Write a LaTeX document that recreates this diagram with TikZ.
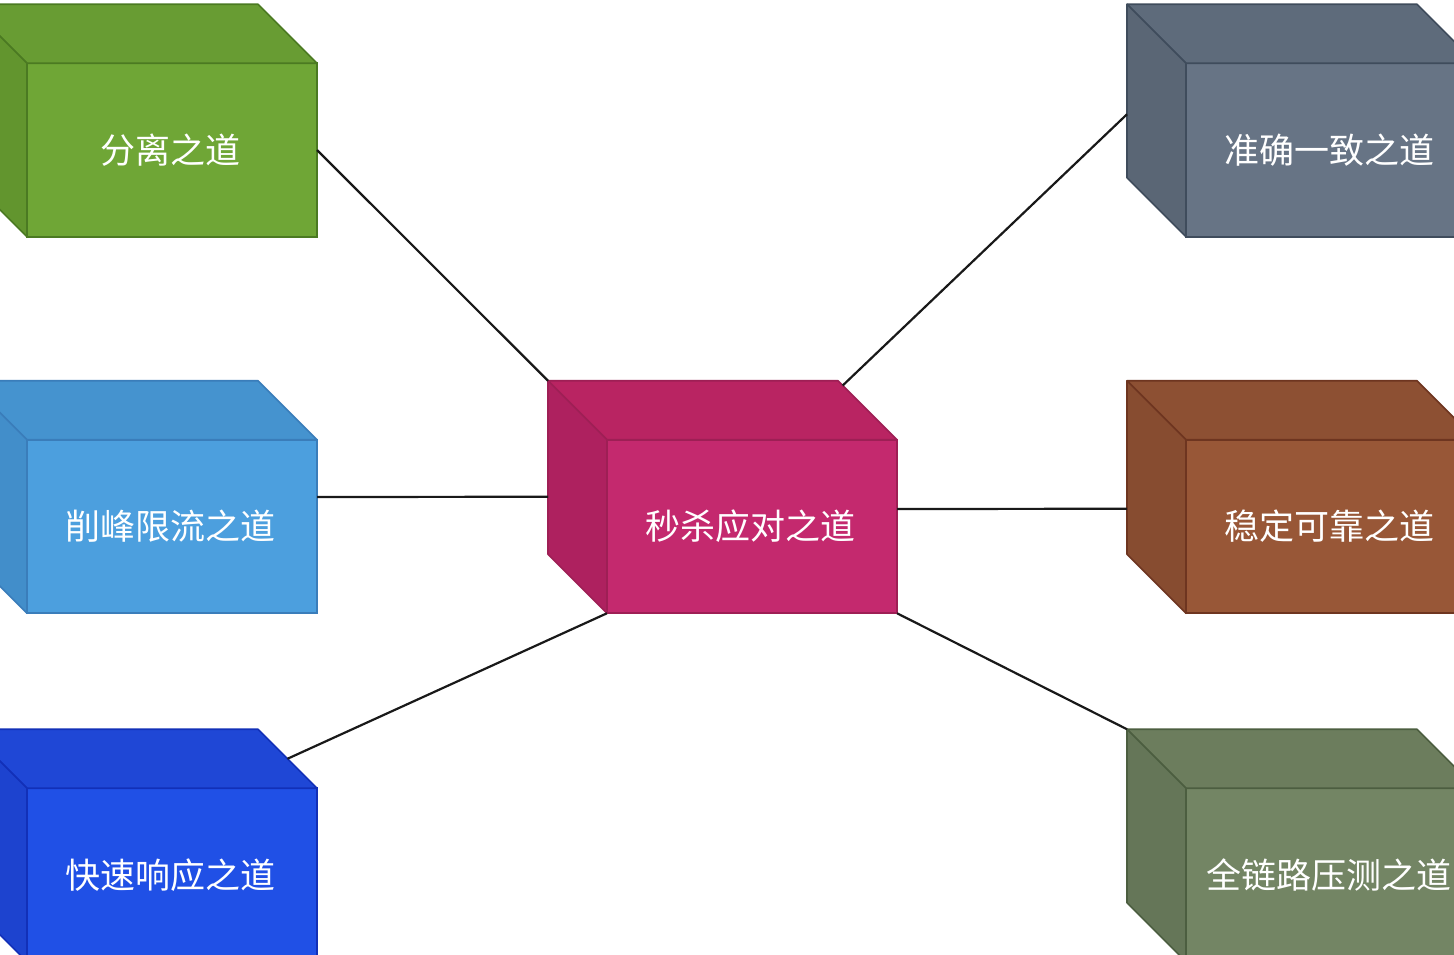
\documentclass[tikz,border=0pt]{standalone}
\usepackage{fontspec}
\newfontfamily\cjk{Noto Sans CJK SC}
\usetikzlibrary{calc}
\definecolor{gF}{HTML}{6FA636}\definecolor{gT}{HTML}{689C33}\definecolor{gS}{HTML}{62952E}\definecolor{gD}{HTML}{4B7A22}
\definecolor{bF}{HTML}{4C9FDE}\definecolor{bT}{HTML}{4593CF}\definecolor{bS}{HTML}{428ECA}\definecolor{bD}{HTML}{3A7DBA}
\definecolor{dF}{HTML}{2050E6}\definecolor{dT}{HTML}{1F47D6}\definecolor{dS}{HTML}{1D43CF}\definecolor{dD}{HTML}{1230B8}
\definecolor{mF}{HTML}{C4296E}\definecolor{mT}{HTML}{B92462}\definecolor{mS}{HTML}{AE215F}\definecolor{mD}{HTML}{9E1F55}
\definecolor{sF}{HTML}{677485}\definecolor{sT}{HTML}{5E6B7B}\definecolor{sS}{HTML}{5A6675}\definecolor{sD}{HTML}{3F4C5C}
\definecolor{rF}{HTML}{985737}\definecolor{rT}{HTML}{8D5033}\definecolor{rS}{HTML}{874C30}\definecolor{rD}{HTML}{6E3520}
\definecolor{oF}{HTML}{738564}\definecolor{oT}{HTML}{6C7D5D}\definecolor{oS}{HTML}{657658}\definecolor{oD}{HTML}{4C5E40}
\tikzset{
  cubefront/.style={rectangle, minimum width=290pt, minimum height=173.5pt, inner sep=0pt, outer sep=0pt,
    line width=1.6pt, text=white, font=\cjk\fontsize{35}{40}\selectfont},
  cubeface/.style={line width=1.6pt, line join=round},
  link/.style={line width=2.2pt, black!90}
}
\newcommand\mycube[7]{%
  \node[cubefront, fill=#3, draw=#6] (#1) at (#2) {\hspace*{-4pt}#7};
  \coordinate (#1-bnw) at ($(#1.north west)+(-59,-59)$);
  \coordinate (#1-bne) at ($(#1.north east)+(-59,-59)$);
  \coordinate (#1-bsw) at ($(#1.south west)+(-59,-59)$);
  \filldraw[cubeface, fill=#4, draw=#6] (#1.north west) -- (#1-bnw) -- (#1-bne) -- (#1.north east) -- cycle;
  \filldraw[cubeface, fill=#5, draw=#6] (#1.north west) -- (#1-bnw) -- (#1-bsw) -- (#1.south west) -- cycle;
}
\begin{document}
\begin{tikzpicture}[x=1pt, y=-1pt]
\useasboundingbox (0,0) rectangle (1454,954);
\clip (0,0) rectangle (1454,954);
\fill[white] (0,0) rectangle (1454,954);
\mycube{g}{172,150}{gF}{gT}{gS}{gD}{分离之道}
\mycube{b}{172,526.5}{bF}{bT}{bS}{bD}{削峰限流之道}
\mycube{bl}{172,875}{dF}{dT}{dS}{dD}{快速响应之道}
\mycube{c}{752,526.5}{mF}{mT}{mS}{mD}{秒杀应对之道}
\mycube{tr}{1331,150}{sF}{sT}{sS}{sD}{准确一致之道}
\mycube{mr}{1331,526.5}{rF}{rT}{rS}{rD}{稳定可靠之道}
\mycube{br}{1331,875}{oF}{oT}{oS}{oD}{全链路压测之道}
% connectors
\coordinate (c-w) at ($(c-bnw)+(0,116)$);
\coordinate (b-e) at ($(b.east)+(0,-29.5)$);
\coordinate (c-e) at ($(c.east)+(0,-17.5)$);
\coordinate (mr-w) at ($(mr-bnw)+(0,128)$);
\coordinate (bl-t) at ($(bl-bne)!0.5!(bl.north east)$);
\coordinate (tr-w) at ($(tr-bnw)+(0,110)$);
\coordinate (c-t) at ($(c-bne)!0.08!(c.north east)$);
\draw[link] (g.east) -- (c-bnw);
\draw[link] (b-e) -- (c-w);
\draw[link] (bl-t) -- (c.south west);
\draw[link] (tr-w) -- (c-t);
\draw[link] (c-e) -- (mr-w);
\draw[link] (c.south east) -- (br-bnw);
\end{tikzpicture}
\end{document}
